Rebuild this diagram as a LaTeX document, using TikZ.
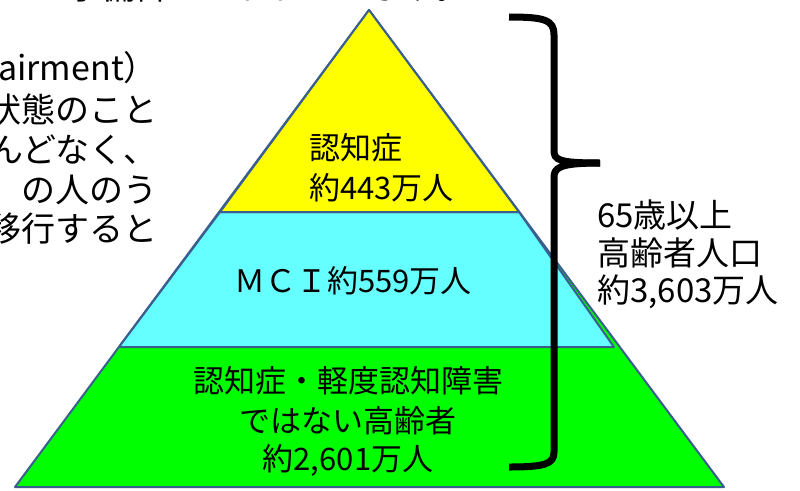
\documentclass[tikz,border=0pt]{standalone}
\usepackage{fontspec}
\setmainfont{Noto Sans CJK JP}
\definecolor{edgeblue}{HTML}{3A5F8F}
\definecolor{topyellow}{HTML}{FFFF00}
\definecolor{midcyan}{HTML}{66FFFF}
\definecolor{lowgreen}{HTML}{00FF00}
\tikzset{
  layer/.style={draw=edgeblue, line width=2pt, line join=round},
  bigtext/.style={font=\fontsize{31}{40}\selectfont, inner sep=0pt, text=black},
  sidetext/.style={font=\fontsize{34}{40}\selectfont, inner sep=0pt, text=black},
  righttext/.style={font=\fontsize{33}{40}\selectfont, inner sep=0pt, text=black},
  bracestroke/.style={line width=7pt, black}
}
\begin{document}
\begin{tikzpicture}[x=1pt,y=-1pt]
\useasboundingbox (0,0) rectangle (800,490);
\clip (0,0) rectangle (800,490);
\fill[white] (0,0) rectangle (800,490);
% pyramid
\path[layer, fill=lowgreen] (369,10) -- (724,487) -- (15,487) -- cycle;
\path[layer, fill=midcyan] (220,212) -- (519,212) -- (614,347) -- (119,347) -- cycle;
\path[layer, fill=topyellow] (369,10) -- (519,212) -- (220,212) -- cycle;
% left explanatory text (clipped at the edges, as in the reference)
\node[sidetext, anchor=east] (toptext) at (470,-13) {予備群といわれています。};
\node[sidetext, anchor=east] (l1) at (158,70) {Impairment）};
\node[sidetext, anchor=east] (l2) at (158,109) {状態のこと};
\node[sidetext, anchor=east] (l3) at (158,150) {ほとんどなく、};
\node[sidetext, anchor=east] (l4) at (158,190) {の人のう};
\node[sidetext, anchor=east] (l5) at (158,229) {移行すると};
% pyramid labels
\node[bigtext, anchor=west] (dem1) at (309,148) {認知症};
\node[bigtext, anchor=west] (dem2) at (309,188) {約443万人};
\node[bigtext] (mci) at (353,281) {ＭＣＩ約559万人};
\node[bigtext] (g1) at (348,381) {認知症・軽度認知障害};
\node[bigtext] (g2) at (348,421) {ではない高齢者};
\node[bigtext] (g3) at (348,460) {約2,601万人};
% brace
\draw[bracestroke] (509,17) .. controls (545,17) and (554,20) .. (554,35)
  -- (554,150) .. controls (554,160) and (558,163) .. (600,163);
\draw[bracestroke] (600,163) .. controls (558,163) and (554,168) .. (554,178)
  -- (554,452) .. controls (554,464) and (545,467) .. (509,467);
% right labels
\node[righttext, anchor=west] (r1) at (597,215) {65歳以上};
\node[righttext, anchor=west] (r2) at (597,253) {高齢者人口};
\node[righttext, anchor=west] (r3) at (597,292) {約3,603万人};
\end{tikzpicture}
\end{document}
